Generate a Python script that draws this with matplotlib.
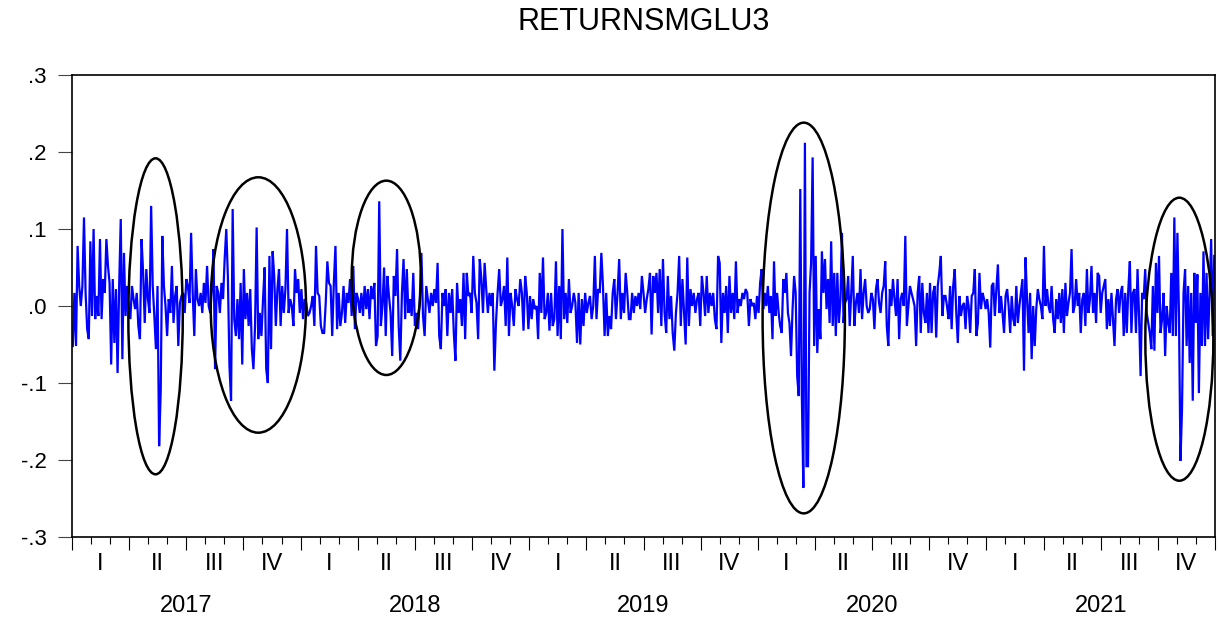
import numpy as np
import matplotlib
matplotlib.use("Agg")
import matplotlib.pyplot as plt
from matplotlib.patches import Ellipse
from matplotlib.transforms import blended_transform_factory

plt.rcParams["font.family"] = ["Liberation Sans", "DejaVu Sans"]

# Daily-ish returns of MGLU3, in thousandths, one list per calendar year
years = [2017, 2018, 2019, 2020, 2021]
quarter_labels = ["I", "II", "III", "IV"]
series_title = "RETURNSMGLU3"
ytick_values = [-0.3, -0.2, -0.1, 0.0, 0.1, 0.2, 0.3]
ytick_labels = ["-.3", "-.2", "-.1", ".0", ".1", ".2", ".3"]

ret_2017 = [
    -52, 17, -52, 78, 26, 0, 26, 115, 17, -30,
    -43, 84, -13, 100, -17, 13, -13, 87, -17, 35,
    17, 87, 52, 30, -76, 35, -48, 22, -87, 26,
    113, -69, 69, -13, 26, 0, -17, 26, 9, -4,
    17, -26, -43, 87, 43, -22, 48, 9, -9, 130,
    26, -13, -56, 26, -182, -110, 91, 26, 0, -39,
    9, -9, 52, -22, 13, 26, -52, 4, 13, 17,
    -9, 35, 26, 4, 95, 17, -39, 48, 9, 0,
    17, -9, 30, 4, 52, 0,
    -9, 22, 74, -82, 26, 17, -9, 30, 9, 61,
    100, 39, -78, -123, 126, -17, -39, 9, -43, 30,
    -76, 48, -17, 17, -26, 22, -56, -82, -26, 102,
    -43, -9, -39, 9, 50, -82, -100, 65, -56, 71,
    39, -26, 22, 48, -26, 26, -9, 22, 100, -9,
    9, 0, -26, 48, 17, 35, -9,
]

ret_2018 = [
    22, -17, 9, 4, -13, -9, 0, 13, -26, 78,
    17, 13, -26, -35, -35, 4, 58, 30, 26, -39,
    30, 78, -30, 17, -26, -9, 26, -22, 17, 4, 35,
    -13, 52, -30, 17, 9, -9, 17, -13, 26, -4,
    22, -17, 26, 9, 30, -52, -39, 136, -26, 0,
    50, -39, 39, 13, -9, -65, 39, 13, 74, -26,
    -71, 17, 61, -17, 48, -9, 9, -13, 43, -26,
    -9, -30, 9, 69, -13, -39, 26, 9, -9, 17,
    0, 22, 4, 56, -39, -56, 17, 0, 22, -39,
    17, -9, 22, -35, -71, 30, -9, 9, -26, 43,
    -43, 43, 13, 17, -9, 65, 17, 4, -43, 61,
    35, -9, 56, 22, -9, 17, 0, 17, -84, -22,
    17, 48, 0, 9, 26, -26, 63, -39, 17, 0,
    -26, 22, 9, 0, 35, 17, -32, 39, 17, -30,
]

ret_2019 = [
    13, -17, 9, -4, 0, -43, 43, -9, 63, -17,
    -9, 17, -32, 17, -26, -17, 58, -39, 26, -43,
    100, -17, 17, -22, 35, -9, 0, 17, 4, -48,
    17, -50, 9, -26, 17, -9, 4, 13, -17, 0,
    65, -17, 22, 17, 69, 26, -39, 17, -39, -13,
    -30, 17, 35, -17, 17, 61, -17, 17, -9, 43,
    17, -17,
    -17, 17, -9, 13, 0, 17, -4, 39, 17, -9,
    9, 22, 43, -37, 39, 17, 43, -9, 48, -26,
    61, -9, -35, 39, -17, 13, -35, -58, -9, 17,
    65, -26, 35, -9, -50, 63, -26, 22, 0, 17,
    -9, 9, 17, -26, 39, 17, -13, 39, -9, 17,
    0, 17, -17, -30, 65, 56, -48, 17, -9, 26,
    -35, 39, -9, 17, -17, 58, -9, 9, 0, 17,
    9, 22, 17, -26, 9, 0, 4, -17, 13,
]

ret_2020 = [
    -9, 30,
    48, -4, 17, 0, 26, -9, 13, -43, 58, -13,
    17, -9, -26, -35, 35, 17, 43, -9, -22, -65,
    -4, 39, 17, -91, -117, 152, -115, -236, 212, -208,
    -208, 17, 56, 193, -52, 65, -61, -4, -43, 71,
    17, 61, -4, 35, -22, 84, -26, 43, -39, 43,
    -22, 9, 95, -22, 4, 9, 39, -26, 17, 65,
    -26, 4, 17, -9, 48, -17, 17, 35, 0, -9,
    -4, 17, 9, -30, 22, 35, 4, -9, 17, 26,
    58, -26, -52, 22, 0, 35, 9, -13, 35, -43,
    9, 17, 0, 91, -26, 0, 26, 17,
    9, 0, -52, 17, 39, -35, 30, -9, -22, 17,
    -35, 30, -35, 17, 26, -41, 26, 43, 65, -13,
    13, 13, 0, -17, 26, -30, 26, 48, -9, -48,
    13, -13, 0, 4, -30, 13, 0, -35, 13, 17,
    48, -39, -22, 43, -4, 17, 9, -4,
]

ret_2021 = [
    9, -9, -54, 26, 30, -13, 22, 54, -9, 13,
    -9, -35, 13, 22, 0, -35, 13, -17, -26, 26,
    -22, 0, 17, 35, -84, 63, 9, -35, 17, -69,
    0, -52, -4, 22, 9, 0, -17, 78, 0, 22,
    0, -9, 26, -17, -35, 9, -17, 17, -22, 22,
    -35, 30, -13, 4, 17, 74, -9, 0, 35, 0,
    17, -35, 9, 17, -26, 48, -9, 9, 52, -9,
    17, -22, 43, 39, -9, 17, 26, 35, -30, 9,
    -26, 17, -17, -52, 9, 22, -9, 17, 26, -39,
    17, -35, 22, 58, -35, 17, 22, -35, 48, -13,
    -91, 17, 9, 48, -9, -22, -35, -56, 26, -58,
    56, -9, 65, -35, -17, 17, -65, 0, -22, -35,
    43, -39, 115, -39, 95, -9, -201, -134, 17, 48,
    -52, 26, -74, 17, -123, 43, -22, 41, -113, 17,
    -52, 71, -52, 43, -43, 17, 87, -39, 65,
]

yearly_returns = [ret_2017, ret_2018, ret_2019, ret_2020, ret_2021]

# spread each year's observations evenly across that year
xs, ys = [], []
for yr, vals in zip(years, yearly_returns):
    n = len(vals)
    xs.append(yr + (np.arange(n) + 0.5) / n)
    ys.append(np.asarray(vals, dtype=float) / 1000.0)
x = np.concatenate(xs)
y = np.concatenate(ys)

W, H = 1219, 618
fig = plt.figure(figsize=(W / 100, H / 100), dpi=100)
fig.patch.set_facecolor("white")
ax = fig.add_axes([72 / W, 81 / H, 1143 / W, 462 / H])

ax.plot(x, y, color="#0000ff", lw=1.6, solid_joinstyle="miter")

ax.set_xlim(years[0], years[-1] + 1)
ax.set_ylim(-0.3, 0.3)

for s in ax.spines.values():
    s.set_linewidth(1.2)
    s.set_color("black")

ax.set_yticks(ytick_values)
ax.set_yticklabels(ytick_labels)
ax.tick_params(axis="y", direction="out", length=10, width=0.8, pad=8,
               labelsize=16, color="#444444")

ax.set_xticks(np.arange(years[0], years[-1] + 1.001, 0.25))
ax.set_xticks(np.arange(years[0], years[-1] + 1.001, 1 / 12), minor=True)
ax.set_xticklabels([])
ax.tick_params(axis="x", which="major", direction="out", length=9.5, width=0.8)
ax.tick_params(axis="x", which="minor", direction="out", length=5, width=0.8)
ax.tick_params(axis="y", which="minor", left=False)

trans = blended_transform_factory(ax.transData, ax.transAxes)
for yr in years:
    for q, lab in enumerate(quarter_labels):
        ax.text(yr + 0.25 * q + 0.125, -0.058, lab, transform=trans,
                ha="center", va="center", fontsize=17)
    ax.text(yr + 0.5, -0.150, str(yr), transform=trans,
            ha="center", va="center", fontsize=17)

fig.text(643.5 / W, 1 - 22 / H, series_title, ha="center", va="center",
         fontsize=22)

# highlighted volatility clusters
clusters = [
    (0.0731, 0.4777, 0.0476, 0.684),
    (0.1630, 0.5022, 0.0834, 0.5528),
    (0.2750, 0.5610, 0.0606, 0.4206),
    (0.6402, 0.4740, 0.0720, 0.8457),
    (0.9688, 0.4281, 0.0595, 0.6126),
]
for cx, cy, w, h in clusters:
    ax.add_patch(Ellipse((cx, cy), w, h, transform=ax.transAxes,
                         fill=False, edgecolor="black", lw=1.8,
                         clip_on=False, zorder=5))

fig.savefig("out.png", dpi=100, facecolor="white")
